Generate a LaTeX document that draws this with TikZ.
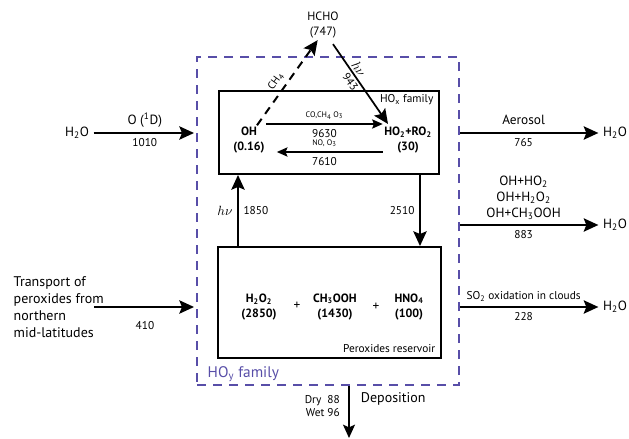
\documentclass[tikz,border=0pt]{standalone}
\usepackage{fontspec}
\setmainfont{PT Sans}
\usetikzlibrary{arrows.meta}
\definecolor{hoyblue}{RGB}{88,78,168}
\begin{document}
\begin{tikzpicture}[x=0.75pt,y=-0.75pt,
  font=\fontsize{10}{12}\selectfont,
  box/.style={draw,line width=1.5pt,inner sep=0pt},
  flux/.style={line width=1.6pt,-{Stealth[length=11pt,width=10pt,inset=2pt]}},
  thinflux/.style={line width=0.8pt,-{Stealth[length=8pt,width=7pt,inset=1.5pt]}},
  spec/.style={align=center,inner sep=1pt,font=\bfseries\fontsize{9}{11.25}\selectfont},
  num/.style={font=\fontsize{8.5}{10}\selectfont},
  tiny/.style={font=\fontsize{6}{7}\selectfont}]
\useasboundingbox (0,0) rectangle (629,439);
\def\sub#1{\textsubscript{#1}}
% the three boxes
\node[draw=hoyblue,line width=1.5pt,dash pattern=on 7pt off 5pt,inner sep=0pt,
      minimum width=196.5pt,minimum height=246pt] (hoy) at (328,221) {};
\node[box,minimum width=165pt,minimum height=62.25pt] (hox) at (329,132.5) {};
\node[box,minimum width=167.25pt,minimum height=83.25pt] (perox) at (329.5,302.5) {};
\node[num,anchor=north east] (hoxlab) at (438,90) {HO\sub{x} family};
\node[num,anchor=south east] (peroxlab) at (440,357) {Peroxides reservoir};
\node[text=hoyblue,font=\fontsize{11.5}{13}\selectfont,anchor=west] (hoylab) at (203,374) {HO\sub{y} family};
% HOx family
\node[spec] (oh) at (249,140) {OH\\(0.16)};
\node[spec] (ho2) at (408,140) {HO\sub{2}+RO\sub{2}\\(30)};
\node[align=center,font=\fontsize{9}{11.25}\selectfont] (hcho) at (323,25) {HCHO\\(747)};
\draw[thinflux] ([yshift=12pt]oh.east) -- ([yshift=12pt]ho2.west)
  node[midway,above,tiny] {CO,CH\sub{4} O\sub{3}} node[midway,below,num] {9630};
\draw[thinflux,shorten >=8pt] ([yshift=-9pt]ho2.west) -- ([yshift=-9pt]oh.east)
  node[midway,above,tiny] {NO, O\sub{3}} node[midway,below,num] {7610};
\draw[line width=1.5pt,dash pattern=on 6pt off 4.5pt,-{Stealth[length=11pt,width=10pt,inset=2pt]}]
  ([xshift=6pt]oh.north) -- ([xshift=-4pt,yshift=2pt]hcho.south)
  node[pos=0.45,sloped,above,font=\fontsize{8}{9}\selectfont] {CH\sub{4}};
\draw[line width=1.3pt,-{Stealth[length=11pt,width=10pt,inset=2pt]}]
  ([xshift=7.5pt,yshift=-1pt]hcho.south) -- ([xshift=-15pt,yshift=1pt]ho2.north)
  node[pos=0.36,sloped,above=0.5pt,inner sep=1pt] {$h\nu$}
  node[pos=0.42,sloped,below=0.5pt,inner sep=1pt,num] {943};
% peroxides
\node[spec] (h2o2) at (259,307) {H\sub{2}O\sub{2}\\(2850)};
\node (plus1) at (297,306) {+};
\node[spec] (ch3ooh) at (335,307) {CH\sub{3}OOH\\(1430)};
\node (plus2) at (376,307) {+};
\node[spec] (hno4) at (409,307) {HNO\sub{4}\\(100)};
\draw[flux] ([xshift=15.75pt]perox.north west) -- ([xshift=15pt]hox.south west)
  node[midway,left] {$h\nu$} node[midway,right,num] {1850};
\draw[flux] ([xshift=-15pt]hox.south east) -- ([xshift=-16.5pt]perox.north east)
  node[midway,left,num] {2510};
% sources
\node (h2oin) at (77,133) {H\sub{2}O};
\draw[flux,shorten >=1.5pt] (h2oin) -- (h2oin -| hoy.west)
  node[midway,above] {O (\textsuperscript{1}D)} node[midway,below,num] {1010};
\node[align=left,anchor=west,font=\fontsize{10.5}{12.75}\selectfont] (transp) at (9,307)
  {Transport of\\peroxides from\\northern\\mid-latitudes};
\coordinate (trsrc) at (94,307);
\draw[flux,shorten >=1.5pt] (trsrc) -- (trsrc -| hoy.west)
  node[midway,below,num,yshift=-7pt] {410};
% sinks
\node (h2oa) at (615,133) {H\sub{2}O};
\node (h2ob) at (615,225) {H\sub{2}O};
\node (h2oc) at (615,307) {H\sub{2}O};
\draw[flux] (hoy.east |- h2oa) -- (h2oa)
  node[pos=0.46,above=2pt] {Aerosol} node[pos=0.46,below,num] {765};
\draw[flux] (hoy.east |- h2ob) -- (h2ob)
  node[pos=0.46,above,align=center] {OH+HO\sub{2}\\OH+H\sub{2}O\sub{2}\\OH+CH\sub{3}OOH}
  node[pos=0.46,below,num] {883};
\draw[flux] (hoy.east |- h2oc) -- (h2oc)
  node[pos=0.46,above,num] {SO\sub{2} oxidation in clouds} node[pos=0.46,below,num] {228};
% deposition
\coordinate (depend) at (349,438);
\draw[line width=1.2pt,-{Stealth[length=10pt,width=9pt,inset=2pt]}] (depend |- hoy.south) -- (depend)
  node[pos=0.39,left=3pt,num,align=right] {Dry\ \ 88\\Wet 96}
  node[pos=0.24,right=5pt,font=\fontsize{10.5}{12}\selectfont] {Deposition};
\end{tikzpicture}
\end{document}
